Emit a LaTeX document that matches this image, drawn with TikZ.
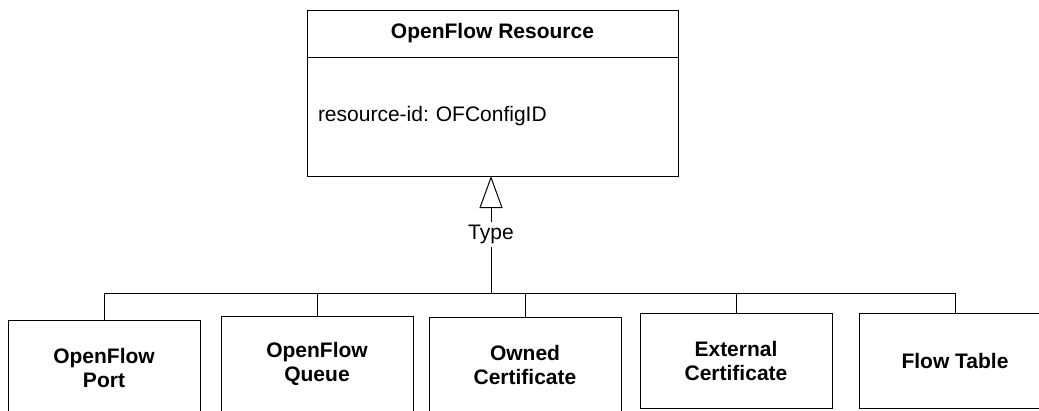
\documentclass[tikz,border=0pt]{standalone}
\usepackage{fontspec}
\setmainfont{Liberation Sans}
\frenchspacing
\usetikzlibrary{arrows.meta,positioning}

\begin{document}
\begin{tikzpicture}[x=1pt,y=-1pt,line width=1pt,
	box/.style={draw,outer sep=0pt,minimum width=192pt,minimum height=95pt,align=center,font=\fontsize{21}{24}\selectfont\bfseries},
	classhead/.style={draw,outer sep=0pt,minimum width=371pt,minimum height=47pt,font=\fontsize{21}{24}\selectfont\bfseries},
	classbody/.style={draw,outer sep=0pt,minimum height=119pt,text width=349pt,inner xsep=11pt,align=left,font=\fontsize{21}{24}\selectfont},
	inherit/.style={-{Triangle[open,length=32pt,width=23pt]}},
	lbl/.style={fill=white,inner sep=3pt,font=\fontsize{21}{24}\selectfont}]
			\path[use as bounding box,clip] (0,0) rectangle (1039,410);
			% superclass
			\node[classhead] (res) at (492.5,33.5) {OpenFlow Resource};
			\node[classbody,below=0pt of res] (resbody) {resource-id: OFConfigID};
			% subclasses
			\node[box] (port) at (104,367.5) {OpenFlow\\Port};
			\node[box] (queue) at (317,363.5) {OpenFlow\\Queue};
			\node[box] (owned) at (525,364.5) {Owned\\Certificate};
			\node[box] (extcert) at (736,360.5) {External\\Certificate};
			\node[box] (flowtable) at (955,360.5) {Flow Table};
			% tree
			\coordinate (bus) at (491,293);
			\draw (port.north) |- (bus) (queue.north) |- (bus) (owned.north) |- (bus);
			\draw (extcert.north) |- (bus) (flowtable.north) |- (bus);
			\draw[inherit] (bus) -- node[lbl]{Type} (resbody.south -| bus);
		\end{tikzpicture}
\end{document}
